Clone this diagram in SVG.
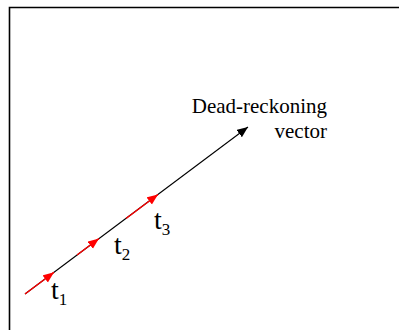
<svg xmlns="http://www.w3.org/2000/svg" width="399" height="330" viewBox="0 0 399 330">
<style>
text{font-family:'Liberation Serif','Times New Roman',serif;fill:#000}
.big{font-size:28px}
.sub{font-size:17px}
.cap{font-size:21px}
</style>
<defs>
<marker id="ab" markerUnits="userSpaceOnUse" markerWidth="12" markerHeight="10" refX="11" refY="4.5" orient="auto"><path d="M0,0 L11,4.5 L0,9 Z" fill="#000"/></marker>
<marker id="ar" markerUnits="userSpaceOnUse" markerWidth="12" markerHeight="10" refX="11" refY="4.5" orient="auto"><path d="M0,0 L11,4.5 L0,9 Z" fill="#ff0000"/></marker>
</defs>
<rect x="0" y="0" width="399" height="330" fill="#fff"/>
<path d="M9.5,340 V7.5 H410" fill="none" stroke="#000" stroke-width="1.6"/>
<g id="connectors">
<line x1="25" y1="294" x2="248" y2="127" stroke="#000" stroke-width="1.1" marker-end="url(#ab)"/>
<line x1="25" y1="294" x2="54" y2="272.3" stroke="#ff0000" stroke-width="1.3" marker-end="url(#ar)"/>
<line x1="77" y1="255" x2="99" y2="238.6" stroke="#ff0000" stroke-width="1.3" marker-end="url(#ar)"/>
<line x1="126" y1="218.4" x2="158" y2="194.4" stroke="#ff0000" stroke-width="1.3" marker-end="url(#ar)"/>
</g>
<g id="label-dr">
<text class="cap" x="327" y="113" text-anchor="end">Dead-reckoning</text>
<text class="cap" x="327" y="138" text-anchor="end">vector</text>
</g>
<g id="t1"><text x="51" y="299"><tspan class="big">t</tspan><tspan class="sub" dy="6">1</tspan></text></g>
<g id="t2"><text x="114" y="254"><tspan class="big">t</tspan><tspan class="sub" dy="6">2</tspan></text></g>
<g id="t3"><text x="154" y="229"><tspan class="big">t</tspan><tspan class="sub" dy="6">3</tspan></text></g>
</svg>
